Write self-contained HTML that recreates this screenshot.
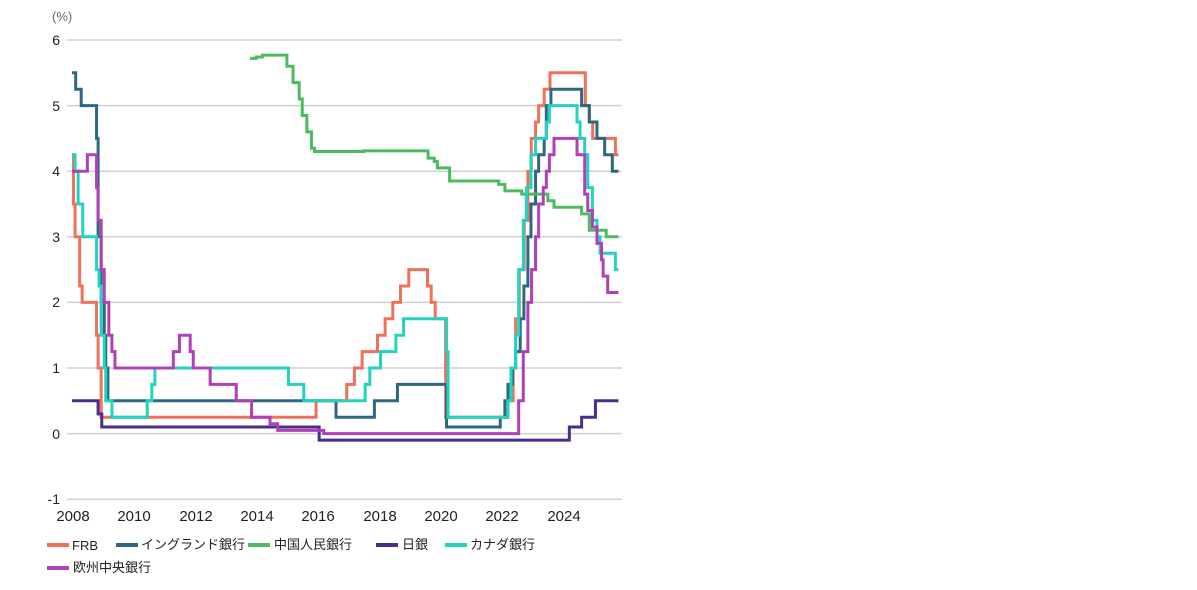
<!DOCTYPE html>
<html><head><meta charset="utf-8"><style>
body{margin:0;background:#fff;width:1197px;height:585px;overflow:hidden}
svg{font-family:"Liberation Sans","Noto Sans CJK JP",sans-serif}
</style></head><body>
<svg id="s" width="1197" height="585" xmlns="http://www.w3.org/2000/svg">
<text x="52" y="21" font-size="13" fill="#666">(%)</text>
<g stroke="#d0d0d0" stroke-width="1.5">
<line x1="67" x2="622" y1="40" y2="40"/><line x1="67" x2="622" y1="105.6" y2="105.6"/>
<line x1="67" x2="622" y1="171.2" y2="171.2"/><line x1="67" x2="622" y1="236.8" y2="236.8"/>
<line x1="67" x2="622" y1="302.4" y2="302.4"/><line x1="67" x2="622" y1="368" y2="368"/>
<line x1="67" x2="622" y1="433.6" y2="433.6"/><line x1="67" x2="622" y1="499.2" y2="499.2"/>
</g>
<g font-size="14" fill="#222" text-anchor="end">
<text x="60" y="45">6</text><text x="60" y="111">5</text><text x="60" y="176">4</text>
<text x="60" y="242">3</text><text x="60" y="307">2</text><text x="60" y="373">1</text>
<text x="60" y="439">0</text><text x="60" y="504">-1</text>
</g>
<g font-size="15" fill="#222" text-anchor="middle">
<text x="73" y="521">2008</text><text x="134" y="521">2010</text><text x="196" y="521">2012</text>
<text x="257" y="521">2014</text><text x="318" y="521">2016</text><text x="380" y="521">2018</text>
<text x="441" y="521">2020</text><text x="502" y="521">2022</text><text x="564" y="521">2024</text>
</g>
<g id="lines" fill="none" stroke-width="3" stroke-linejoin="miter"></g>
<g font-size="13" fill="#222">
<rect x="47" y="543" width="22" height="4" fill="#f0705a"/><text x="72" y="550">FRB</text>
<rect x="116" y="543" width="22" height="4" fill="#2e6880"/><text x="141" y="549">イングランド銀行</text>
<rect x="248" y="543" width="22" height="4" fill="#4cbb5f"/><text x="274" y="549">中国人民銀行</text>
<rect x="376" y="543" width="22" height="4" fill="#4b2d8a"/><text x="402" y="549">日銀</text>
<rect x="445" y="543" width="22" height="4" fill="#22d3c0"/><text x="470" y="549">カナダ銀行</text>
<rect x="47" y="566" width="22" height="4" fill="#b040b8"/><text x="73" y="572">欧州中央銀行</text>
</g>
</svg>
<script>
const X=t=>72+(t-2008)*30.7, Y=v=>433.6-v*65.6, END=2025.8;
function step(d,c,end){let p='';for(let i=0;i<d.length;i+=2){const t=d[i],v=d[i+1];if(i==0)p+=`M${X(t)},${Y(v)}`;else p+=`H${X(t)}V${Y(v)}`;}p+=`H${X(end||END)}`;
const e=document.createElementNS('http://www.w3.org/2000/svg','path');e.setAttribute('d',p);e.setAttribute('stroke',c);document.getElementById('lines').appendChild(e);}
step([2008,4.25,2008.05,3.5,2008.1,3.0,2008.25,2.25,2008.33,2.0,2008.8,1.5,2008.85,1.0,2008.95,0.25,2015.95,0.5,2016.95,0.75,2017.2,1.0,2017.45,1.25,2017.95,1.5,2018.2,1.75,2018.45,2.0,2018.7,2.25,2018.97,2.5,2019.58,2.25,2019.7,2.0,2019.83,1.75,2020.17,0.25,2022.2,0.5,2022.37,1.0,2022.45,1.75,2022.57,2.5,2022.73,3.25,2022.85,4.0,2022.96,4.5,2023.1,4.75,2023.2,5.0,2023.38,5.25,2023.57,5.5,2024.72,5.0,2024.85,4.75,2024.96,4.5,2025.7,4.25],'#f0705a');
step([2008,5.5,2008.12,5.25,2008.3,5.0,2008.8,4.5,2008.85,3.0,2008.95,2.0,2009.05,1.5,2009.1,1.0,2009.17,0.5,2016.6,0.25,2017.85,0.5,2018.6,0.75,2020.2,0.1,2021.95,0.25,2022.1,0.5,2022.2,0.75,2022.35,1.0,2022.45,1.25,2022.6,1.75,2022.72,2.25,2022.85,3.0,2022.95,3.5,2023.1,4.0,2023.2,4.25,2023.38,4.5,2023.45,5.0,2023.6,5.25,2024.6,5.0,2024.85,4.75,2025.1,4.5,2025.35,4.25,2025.6,4.0],'#2e6880');
step([2013.8,5.72,2014.0,5.74,2014.2,5.77,2014.85,5.77,2015.0,5.6,2015.2,5.35,2015.4,5.1,2015.5,4.85,2015.65,4.6,2015.8,4.35,2015.9,4.3,2017.5,4.31,2019.6,4.2,2019.8,4.15,2019.9,4.05,2020.3,3.85,2021.9,3.8,2022.1,3.7,2022.65,3.65,2023.5,3.55,2023.7,3.45,2024.6,3.35,2024.85,3.1,2025.4,3.0],'#4cbb5f');
step([2008,0.5,2008.85,0.3,2008.97,0.1,2016.05,-0.1,2024.2,0.1,2024.6,0.25,2025.05,0.5],'#4b2d8a');
step([2008,4.25,2008.1,4.0,2008.2,3.5,2008.35,3.0,2008.8,2.5,2008.88,2.25,2008.95,1.5,2009.05,1.0,2009.1,0.5,2009.3,0.25,2010.45,0.5,2010.6,0.75,2010.7,1.0,2015.05,0.75,2015.55,0.5,2017.55,0.75,2017.7,1.0,2018.05,1.25,2018.55,1.5,2018.8,1.75,2020.2,1.25,2020.25,0.25,2022.2,0.5,2022.3,1.0,2022.45,1.5,2022.55,2.5,2022.7,3.25,2022.8,3.75,2022.95,4.25,2023.1,4.5,2023.45,4.75,2023.55,5.0,2024.45,4.75,2024.55,4.5,2024.7,4.25,2024.8,3.75,2024.95,3.25,2025.1,3.0,2025.2,2.75,2025.7,2.5],'#22d3c0');
step([2008,4.0,2008.5,4.25,2008.8,3.75,2008.85,3.25,2008.95,2.5,2009.05,2.0,2009.2,1.5,2009.3,1.25,2009.4,1.0,2011.3,1.25,2011.5,1.5,2011.85,1.25,2011.95,1.0,2012.5,0.75,2013.35,0.5,2013.85,0.25,2014.45,0.15,2014.7,0.05,2016.2,0.0,2022.55,0.5,2022.7,1.25,2022.85,2.0,2022.97,2.5,2023.1,3.0,2023.2,3.5,2023.35,3.75,2023.45,4.0,2023.55,4.25,2023.7,4.5,2024.45,4.25,2024.7,3.65,2024.8,3.4,2024.95,3.15,2025.1,2.9,2025.25,2.65,2025.3,2.4,2025.45,2.15],'#b040b8');
</script>
</body></html>
